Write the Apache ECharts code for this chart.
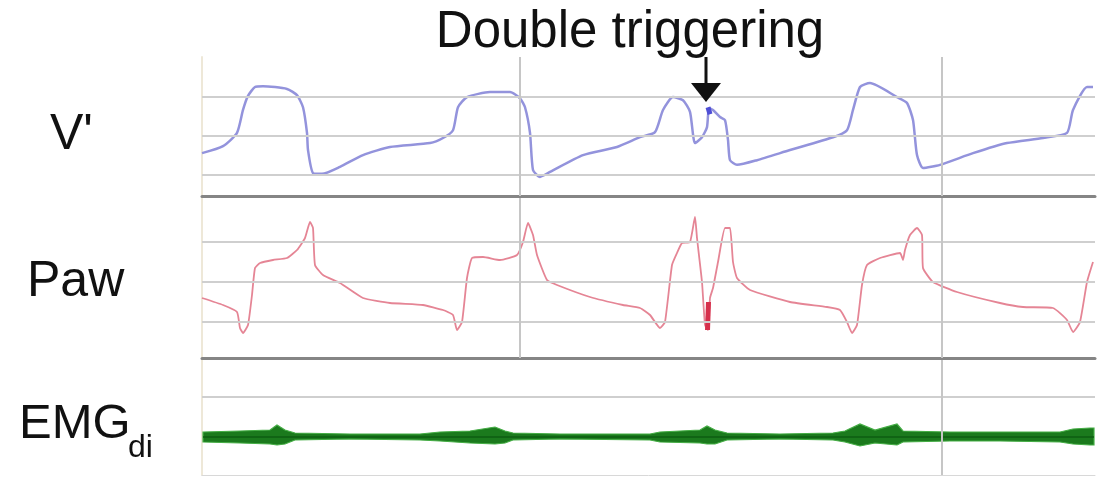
<!DOCTYPE html>
<html>
<head>
<meta charset="utf-8">
<script src="https://cdn.jsdelivr.net/npm/echarts@6/dist/echarts.min.js"></script>
<style>html,body{margin:0;padding:0;background:#fff;}#c{width:1108px;height:479px;}</style>
</head>
<body>
<div id="c"></div>
<script>
// ---- data (time in s) ----
const vTime = [0,0.21,0.35,0.41,0.46,0.53,0.61,0.85,0.95,1.01,1.05,1.06,1.11,1.20,1.38,1.61,1.88,2.28,2.41,2.51,2.56,2.65,2.88,3.08,3.18,3.23,3.28,3.31,3.38,3.48,3.81,4.15,4.38,4.53,4.61,4.71,4.81,4.88,4.93,5.00,5.05,5.07,5.11,5.18,5.23,5.26,5.28,5.35,5.55,5.88,6.31,6.45,6.51,6.58,6.68,6.95,7.05,7.11,7.15,7.21,7.38,7.71,8.05,8.41,8.65,8.71,8.85,8.91];
const vFlow = [-0.44,-0.26,0.08,0.67,1.03,1.26,1.28,1.21,1.05,0.74,0.08,-0.36,-0.95,-0.97,-0.79,-0.49,-0.28,-0.18,-0.05,0.15,0.74,1.00,1.13,1.13,0.97,0.74,0.08,-0.87,-1.05,-0.92,-0.49,-0.28,-0.03,0.10,0.67,1.00,0.92,0.62,-0.18,-0.03,0.23,0.72,0.67,0.49,0.41,-0.10,-0.62,-0.74,-0.62,-0.36,-0.03,0.15,0.67,1.26,1.36,1.00,0.85,0.41,-0.49,-0.82,-0.74,-0.44,-0.18,-0.05,0.08,0.67,1.26,1.26];

const pTime = [0,0.21,0.35,0.38,0.41,0.46,0.50,0.53,0.58,0.71,0.85,0.95,1.03,1.08,1.11,1.13,1.21,1.38,1.61,1.88,2.21,2.41,2.51,2.55,2.60,2.65,2.70,2.81,2.98,3.15,3.21,3.26,3.31,3.35,3.45,3.55,3.88,4.21,4.38,4.48,4.58,4.63,4.70,4.75,4.80,4.88,4.93,4.95,5.00,5.03,5.06,5.08,5.11,5.16,5.23,5.28,5.31,5.35,5.48,5.88,6.25,6.38,6.45,6.50,6.55,6.60,6.65,6.78,6.98,7.01,7.03,7.08,7.15,7.20,7.21,7.31,7.55,7.98,8.21,8.51,8.65,8.71,8.78,8.85,8.91];
const pAw = [16.0,14.25,12.5,8.5,7.25,9.25,16.75,23.5,24.75,25.5,26.0,28.0,31.0,35.0,33.5,24.25,21.75,19.75,16.0,14.75,14.25,13.0,11.75,8.0,10.0,21.0,26.0,26.25,25.5,26.75,30.0,34.75,31.75,26.75,20.5,19.25,16.25,14.25,13.5,11.75,8.5,10.0,24.25,27.25,29.75,30.0,36.25,31.0,20.0,9.25,8.0,16.0,18.5,25.0,33.5,33.5,25.0,21.0,18.0,15.0,13.75,13.0,10.0,7.25,9.25,19.25,24.25,26.0,27.25,25.5,28.0,31.75,33.5,31.75,23.5,20.0,17.5,14.75,13.75,13.5,10.5,7.5,10.0,20.0,25.0];

const emgTime  = [0.01,0.38,0.68,0.75,0.83,0.93,1.48,2.18,2.38,2.68,2.93,3.03,3.11,3.58,4.48,4.58,4.98,5.05,5.13,5.25,5.78,6.31,6.43,6.58,6.73,6.95,7.01,7.48,7.98,8.58,8.71,8.88,8.92];
const emgUpper = [2.5,3,3.5,6,3.5,2,1.5,1.5,2.5,3,5,3,2,1.5,1.5,2.5,3.5,5.5,3.5,2,1.5,2,3,6.5,3.5,6.5,3,2.5,2.5,2.5,4,4.5,4.5];
const emgLower = [-2.5,-3,-3.5,-4,-3.5,-1.5,-1,-1.5,-2,-3,-3.5,-3,-1.5,-1,-1.5,-2.5,-3,-3.5,-3.5,-1.5,-1,-1.5,-2.5,-4.5,-3,-4,-2.5,-2,-2,-2.5,-3.5,-4,-4];

// darker "double trigger" marks
const vBlobTime = [5.06,5.08];
const vBlobFlow = [0.74,0.56];
const pBlobTime = [5.055,5.065];
const pBlobAw = [8.0,15.0];

// reference grid lines
const vGrid = [1,0,-1];
const pGrid = [30,20,10];
const emgGrid = [20];
const cursorTimesUpper = [3.18,7.40];
const cursorTimesEmg = [7.40];

// annotation arrow (time, flow values)
const arrowTime = 5.04;
const arrowShaft = [2.03, 1.15];
const arrowHead = 1.12;

// ---- chart ----
const chart = echarts.init(document.getElementById('c'), null, {renderer:'canvas'});
const zip = (a,b) => a.map((x,i)=>[x,b[i]]);
const FONT = '"Liberation Sans", Arial, Helvetica, sans-serif';
const T_MAX = 8.93;

const grids = [
  {left:202, right:13, top:57, height:139},
  {left:202, right:13, top:198, height:160},
  {left:202, right:13, top:360, height:115}
];
const xAxes = grids.map((g,i)=>({
  type:'value', gridIndex:i, min:0, max:T_MAX,
  axisLabel:{show:false}, axisTick:{show:false}, splitLine:{show:false},
  axisLine:{show:true, onZero:false, lineStyle: i<2 ? {color:'#858585', width:3} : {color:'#d8d8d8', width:1}}
}));
const yRanges = [[-1.54,2.03],[1,41],[-19,38.5]];
const yAxes = yRanges.map((r,i)=>({
  type:'value', gridIndex:i, min:r[0], max:r[1],
  axisLabel:{show:false}, axisTick:{show:false}, splitLine:{show:false},
  axisLine:{show:true, lineStyle:{color:'#eee8d8', width:2}}
}));

function gridSeries(idx, xData, yData, hVals, vVals){
  return {
    type:'line', xAxisIndex:idx, yAxisIndex:idx, data:zip(xData,yData),
    showSymbol:false, silent:true, z:1, lineStyle:{opacity:0}, animation:false,
    markLine:{
      silent:true, symbol:['none','none'], label:{show:false}, animation:false,
      data: hVals.map(v=>({yAxis:v, lineStyle:{color:'#cfcfcf', width:2, type:'solid'}}))
        .concat(vVals.map(t=>({xAxis:t, lineStyle:{color:'#c6c6c6', width:2, type:'solid'}})))
    }
  };
}

const option = {
  backgroundColor:'#ffffff',
  animation:false,
  grid: grids,
  xAxis: xAxes,
  yAxis: yAxes,
  graphic:[
    {type:'text', x:630, y:33, style:{text:'Double triggering', font:'51px '+FONT, fill:'#111', align:'center', verticalAlign:'middle'}},
    {type:'text', x:50, y:135, style:{text:"V'", font:'50px '+FONT, fill:'#111', align:'left', verticalAlign:'middle'}},
    {type:'text', x:27, y:282, style:{text:'Paw', font:'50px '+FONT, fill:'#111', align:'left', verticalAlign:'middle'}},
    {type:'text', x:19, y:424, style:{text:'EMG', font:'49px '+FONT, fill:'#111', align:'left', verticalAlign:'middle'}},
    {type:'text', x:128, y:448, style:{text:'di', font:'32px '+FONT, fill:'#111', align:'left', verticalAlign:'middle'}}
  ],
  series:[
    gridSeries(0, vTime, vFlow, vGrid, cursorTimesUpper),
    gridSeries(1, pTime, pAw, pGrid, cursorTimesUpper),
    gridSeries(2, emgTime, emgUpper, emgGrid, cursorTimesEmg),
    {
      name:"V'", type:'line', xAxisIndex:0, yAxisIndex:0, data:zip(vTime,vFlow),
      showSymbol:false, smooth:0.2, z:3,
      lineStyle:{color:'#9393dc', width:2.5}
    },
    {
      type:'line', xAxisIndex:0, yAxisIndex:0, data:zip(vBlobTime,vBlobFlow),
      showSymbol:false, z:4, lineStyle:{color:'#4f4fd6', width:5}
    },
    {
      type:'line', xAxisIndex:0, yAxisIndex:0, clip:false, silent:true, z:6,
      data:arrowShaft.map(v=>[arrowTime,v]),
      showSymbol:false, lineStyle:{color:'#111', width:3}
    },
    {
      type:'scatter', xAxisIndex:0, yAxisIndex:0, clip:false, silent:true, z:6,
      data:[[arrowTime, arrowHead]],
      symbol:'triangle', symbolRotate:180, symbolSize:[30,19],
      itemStyle:{color:'#111', opacity:1}
    },
    {
      name:'Paw', type:'line', xAxisIndex:1, yAxisIndex:1, data:zip(pTime,pAw),
      showSymbol:false, smooth:0.15, z:3,
      lineStyle:{color:'#e58595', width:1.8}
    },
    {
      type:'line', xAxisIndex:1, yAxisIndex:1, data:zip(pBlobTime,pBlobAw),
      showSymbol:false, z:4, lineStyle:{color:'#d6304c', width:5}
    },
    {
      name:'EMGdi', type:'custom', xAxisIndex:2, yAxisIndex:2, z:3,
      data:[[0,0]],
      renderItem:function(params, api){
        const pts = [];
        for(let i=0;i<emgTime.length;i++) pts.push(api.coord([emgTime[i], emgUpper[i]]));
        for(let i=emgTime.length-1;i>=0;i--) pts.push(api.coord([emgTime[i], emgLower[i]]));
        const mid = emgTime.map(t=>api.coord([t,0]));
        return {type:'group', children:[
          {type:'polygon', shape:{points:pts}, style:{fill:'#1b7a1d', stroke:'#45ad45', lineWidth:1.2}},
          {type:'polyline', shape:{points:mid}, style:{stroke:'#0e5e12', lineWidth:1.5, fill:null}}
        ]};
      }
    }
  ]
};
chart.setOption(option);
</script>
</body>
</html>
